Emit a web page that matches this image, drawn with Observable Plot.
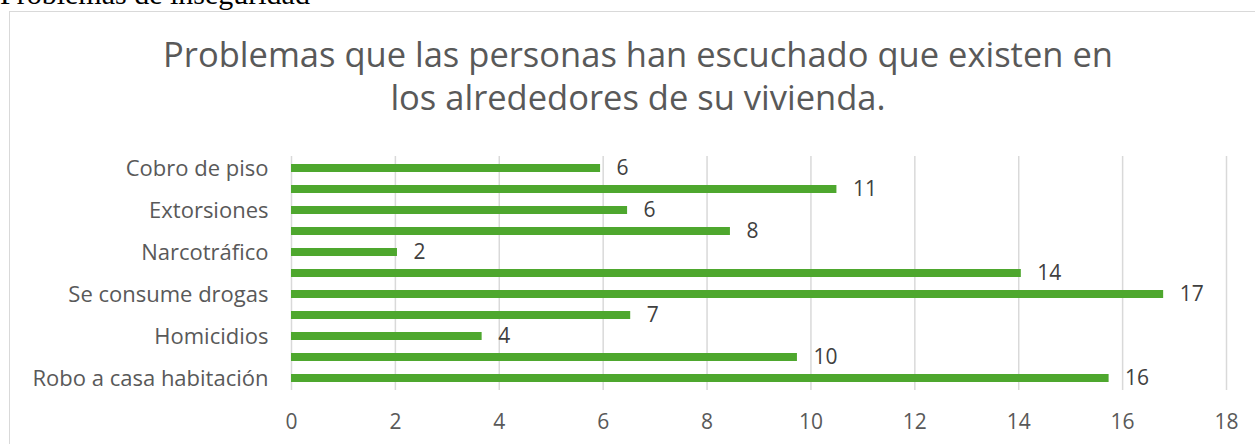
<!DOCTYPE html>
<html>
<head>
<meta charset="utf-8">
<script src="https://cdn.jsdelivr.net/npm/d3@7"></script>
<script src="https://cdn.jsdelivr.net/npm/@observablehq/plot@0.6"></script>
<style>
  html, body { margin: 0; padding: 0; background: #fff; width: 1255px; height: 444px; overflow: hidden; position: relative; }
  #doctitle { position: absolute; left: 0; top: -23px; font-family: "Liberation Serif", "Times New Roman", serif; font-size: 30px; color: #000; white-space: nowrap; }
  #frame { position: absolute; left: 9px; top: 11px; width: 1300px; height: 500px; border: 1.5px solid #d9d9d9; box-sizing: border-box; }
  #title { position: absolute; left: 0; top: 32px; width: 1276px; text-align: center; font-family: "Open Sans", sans-serif; font-size: 34.5px; line-height: 43px; color: #595959; }
  #chart { position: absolute; left: 0; top: 140px; }
</style>
</head>
<body>
<div id="doctitle">Problemas de inseguridad</div>
<div id="frame"></div>
<div id="title">Problemas que las personas han escuchado que existen en<br>los alrededores de su vivienda.</div>
<div id="chart"></div>
<script>
// Categories listed top to bottom (only every other label is shown on the axis)
const categories = ["Cobro de piso", "Secuestros", "Extorsiones", "Pandillerismo", "Narcotráfico", "Venta de drogas", "Se consume drogas", "Robo de vehículos", "Homicidios", "Robo a transeúnte", "Robo a casa habitación"];
const values = [5.95, 10.5, 6.47, 8.45, 2.04, 14.05, 16.79, 6.53, 3.67, 9.74, 15.74];
const valueLabels = [6, 11, 6, 8, 2, 14, 17, 7, 4, 10, 16];
const shownCategories = ["Cobro de piso", "Extorsiones", "Narcotráfico", "Se consume drogas", "Homicidios", "Robo a casa habitación"];
const xTicks = [0, 2, 4, 6, 8, 10, 12, 14, 16, 18];

const data = categories.map((c, i) => ({category: c, value: values[i], label: String(valueLabels[i])}));

const chart = Plot.plot({
  width: 1255,
  height: 300,
  marginLeft: 291,
  marginRight: 29,
  marginTop: 16,
  marginBottom: 50,
  style: {fontFamily: "'Open Sans', sans-serif", fontSize: "21px", color: "#595959", background: "transparent"},
  x: {domain: [0, 18], label: null},
  y: {domain: categories, paddingInner: 0.63, paddingOuter: 0.315, label: null},
  marks: [
    Plot.gridX(xTicks, {stroke: "#d9d9d9", strokeOpacity: 1, strokeWidth: 1.5}),
    Plot.barX(data, {x: "value", y: "category", fill: "#4ea72e"}),
    Plot.text(data, {x: "value", y: "category", text: "label", textAnchor: "start", dx: 16, fill: "#404040", fontSize: 21}),
    Plot.axisX({ticks: xTicks, tickSize: 0, tickPadding: 24, fontSize: 21, fill: "#595959"}),
    Plot.axisY({ticks: shownCategories, tickSize: 0, tickPadding: 23, fontSize: 22, fill: "#595959"})
  ]
});
document.getElementById("chart").appendChild(chart);
</script>
</body>
</html>
